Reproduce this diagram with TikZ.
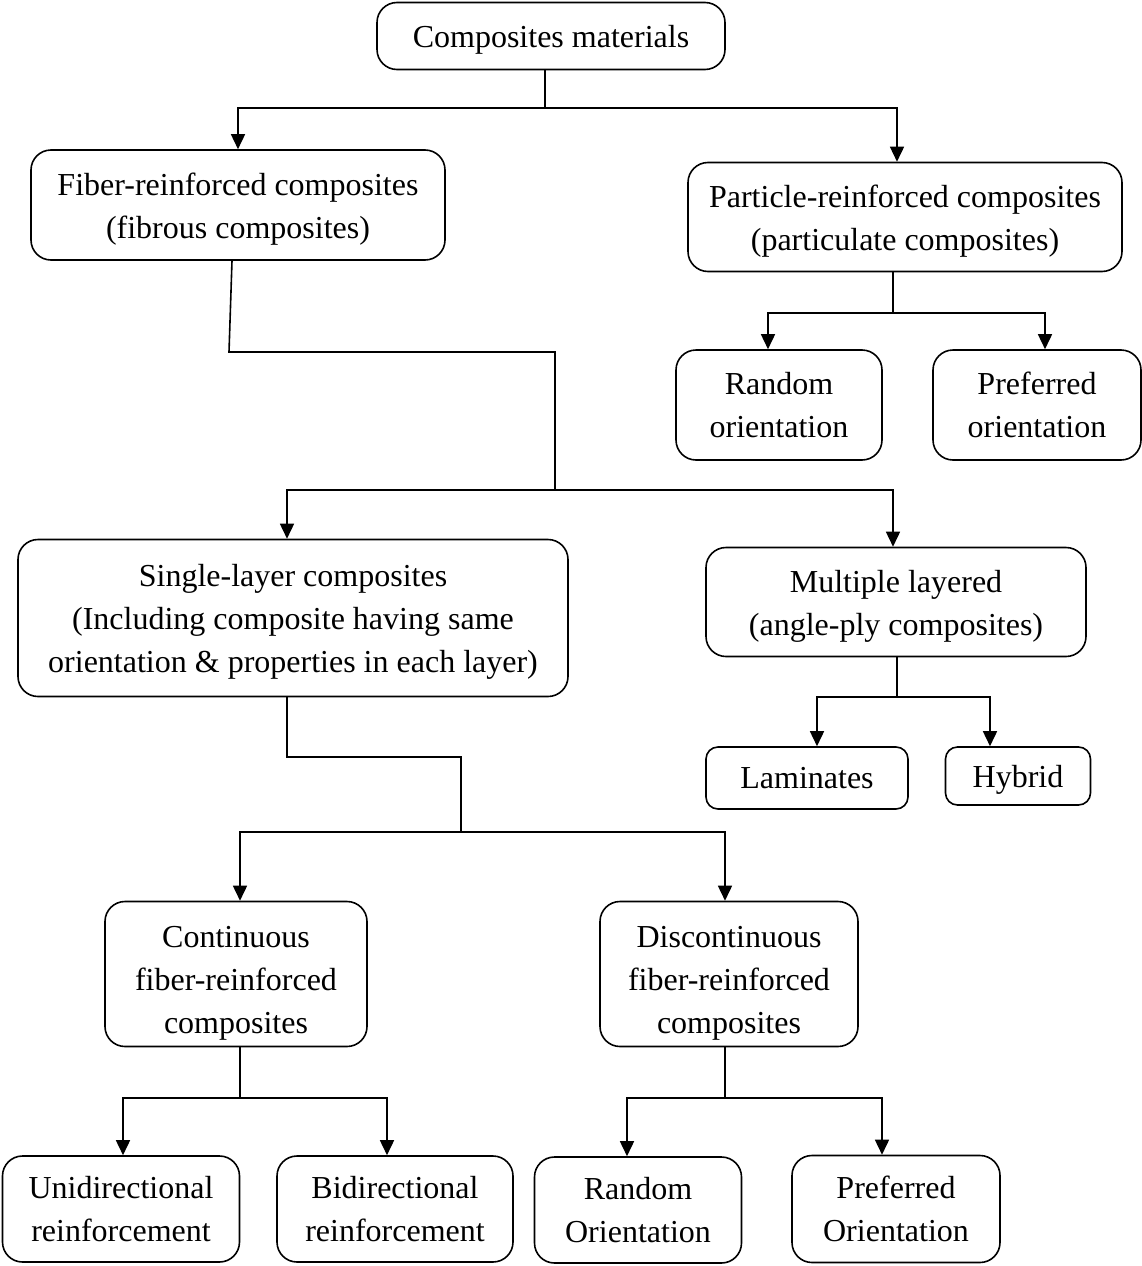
\documentclass[tikz,border=0pt]{standalone}
\usepackage{fontspec}
\setmainfont{Liberation Serif}
\usetikzlibrary{arrows.meta}
\newcommand{\tstrut}{\rule{0pt}{30pt}}
\newcommand{\lstrut}{\rule{0pt}{40pt}}
\begin{document}
\begin{tikzpicture}[x=1pt,y=-1pt,line width=1.6pt]
  \tikzstyle{box}=[draw, rounded corners=20pt, align=center, inner sep=0pt, font=\fontsize{32}{43}\selectfont]
  \tikzstyle{arr}=[-{Triangle[length=15pt,width=14pt]}]
  \useasboundingbox (0,0) rectangle (1142,1266);
  % boxes
  \node[box, minimum width=348pt, minimum height=67pt] (CM) at (551,36) {\tstrut Composites materials};
  \node[box, minimum width=414pt, minimum height=110pt] (F) at (238,205) {\tstrut Fiber-reinforced composites\\(fibrous composites)};
  \node[box, minimum width=434pt, minimum height=109pt] (P) at (905,217) {\tstrut Particle-reinforced composites\\(particulate composites)};
  \node[box, minimum width=206pt, minimum height=110pt] (RO) at (779,405) {Random\\orientation};
  \node[box, minimum width=208pt, minimum height=110pt] (PO) at (1037,405) {Preferred\\orientation};
  \node[box, minimum width=550pt, minimum height=157pt] (S) at (293,618) {\tstrut Single-layer composites\\(Including composite having same\\orientation \& properties in each layer)};
  \node[box, minimum width=380pt, minimum height=109pt] (M) at (896,602) {\tstrut Multiple layered\\(angle-ply composites)};
  \node[box, minimum width=202pt, minimum height=62pt, rounded corners=12pt] (L) at (807,778) {Laminates};
  \node[box, minimum width=145pt, minimum height=58pt, rounded corners=12pt] (H) at (1018,776) {\tstrut Hybrid};
  \node[box, minimum width=262pt, minimum height=145pt] (CF) at (236,974) {\lstrut Continuous\\fiber-reinforced\\composites};
  \node[box, minimum width=258pt, minimum height=145pt] (DF) at (729,974) {\lstrut Discontinuous\\fiber-reinforced\\composites};
  \node[box, minimum width=237pt, minimum height=106pt] (U) at (121,1209) {Unidirectional\\reinforcement};
  \node[box, minimum width=236pt, minimum height=106pt] (B) at (395,1209) {Bidirectional\\reinforcement};
  \node[box, minimum width=207pt, minimum height=106pt] (RO2) at (638,1210) {Random\\Orientation};
  \node[box, minimum width=208pt, minimum height=107pt] (PO2) at (896,1209) {Preferred\\Orientation};
  % junctions
  \coordinate (j0) at (545,108);
  \coordinate (j1) at (229,352);
  \coordinate (j2) at (555,490);
  \coordinate (j3) at (893,313);
  \coordinate (j4) at (897,697);
  \coordinate (j5) at (287,757);
  \coordinate (j6) at (461,832);
  \coordinate (j7) at (240,1098);
  \coordinate (j8) at (725,1098);
  % connectors
  \draw (CM.south -| j0) -- (j0);
  \draw[arr] (j0) -| (F.north);
  \draw[arr] (j0) -| ([xshift=-8pt]P.north);
  \draw ([xshift=-6pt]F.south) -- (j1) -| (j2);
  \draw[arr] (j2) -| ([xshift=-6pt]S.north);
  \draw[arr] (j2) -| ([xshift=-3pt]M.north);
  \draw (P.south -| j3) -- (j3);
  \draw[arr] (j3) -| ([xshift=-11pt]RO.north);
  \draw[arr] (j3) -| ([xshift=8pt]PO.north);
  \draw (M.south -| j4) -- (j4);
  \draw[arr] (j4) -| ([xshift=10pt]L.north);
  \draw[arr] (j4) -| ([xshift=-28pt]H.north);
  \draw (S.south -| j5) -- (j5) -| (j6);
  \draw[arr] (j6) -| ([xshift=4pt]CF.north);
  \draw[arr] (j6) -| ([xshift=-4pt]DF.north);
  \draw (CF.south -| j7) -- (j7);
  \draw[arr] (j7) -| ([xshift=2pt]U.north);
  \draw[arr] (j7) -| ([xshift=-8pt]B.north);
  \draw (DF.south -| j8) -- (j8);
  \draw[arr] (j8) -| ([xshift=-11pt]RO2.north);
  \draw[arr] (j8) -| ([xshift=-14pt]PO2.north);
\end{tikzpicture}
\end{document}
